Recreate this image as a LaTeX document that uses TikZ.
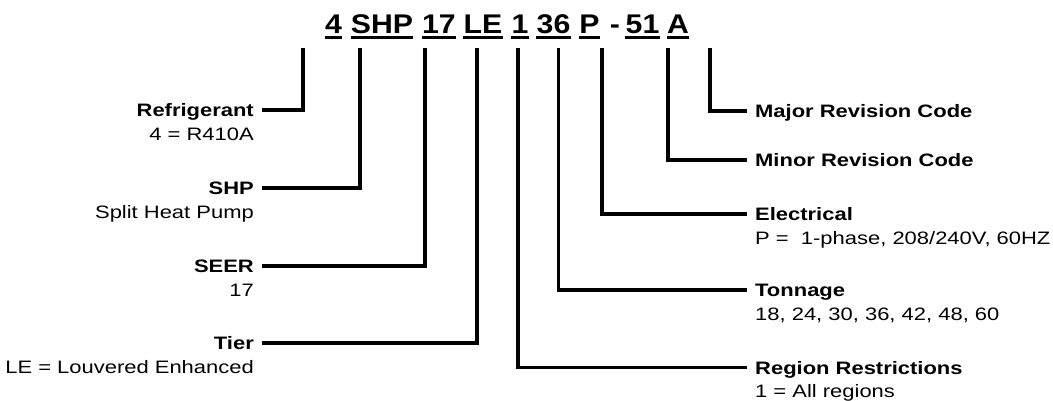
\documentclass[tikz,border=0pt]{standalone}
\usepackage{fontspec}
\setmainfont{Liberation Sans}
\newfontfamily\labelfont{Liberation Sans}[FakeStretch=1.22]
\newfontfamily\codefont{Liberation Sans}[FakeStretch=1.12]

\begin{document}
\begin{tikzpicture}[
		x=1pt, y=-1pt,
		code part/.style={font=\codefont\fontsize{27}{32}\selectfont\bfseries, inner sep=0pt, anchor=base},
		code line/.style={line width=3pt},
		lead/.style={line width=3.5pt},
		head text/.style={font=\labelfont\fontsize{18}{21}\selectfont\bfseries, inner xsep=8pt, inner ysep=0pt, text height=13pt, text depth=0pt},
		note text/.style={font=\labelfont\fontsize{18}{21}\selectfont, inner xsep=8pt, inner ysep=0pt},
		left head/.style={head text, anchor=base east},
		left note/.style={note text, anchor=base east},
		right head/.style={head text, anchor=base west},
		right note/.style={note text, anchor=base west}
		]
		\useasboundingbox (0,0) rectangle (1053,400);
		
		% =========================================================
		% Model number
		% =========================================================
		\foreach \x/\n/\t in {333.5/t4/4, 382/tshp/SHP, 439/t17/17, 483/tle/LE, 520/t1/1,
			553.5/t36/36, 589.5/tp/P, 615/tdash/-, 642.5/t51/51, 678/ta/A} {
			\node[code part] (\n) at (\x, 33) {\t};
		}
		% Underlines
		\foreach \n in {t4, tshp, t17, tle, t1, t36, tp, t51, ta} {
			\draw[code line] ([yshift=-4.5pt]\n.base west) -- ([yshift=-4.5pt]\n.base east);
		}
		
		% Top ends of the leads
		\foreach \x/\n in {303/refr, 360/shp, 425/seer, 477/tier, 518/region,
			558.5/ton, 602/elec, 668/minor, 710/major} {
			\coordinate (top \n) at (\x, 48);
		}
		
		% =========================================================
		% Left side
		% =========================================================
		\node[left head] (refr) at (262, 116.5) {Refrigerant};
		\node[left note] (refr sub) at ([yshift=-24pt]refr.base east) {4 = R410A};
		
		\node[left head] (shp) at (262, 194.5) {SHP};
		\node[left note] (shp sub) at ([yshift=-24pt]shp.base east) {Split Heat Pump};
		
		\node[left head] (seer) at (262, 272.5) {SEER};
		\node[left note] (seer sub) at ([yshift=-24pt]seer.base east) {17};
		
		\node[left head] (tier) at (262, 349.5) {Tier};
		\node[left note] (tier sub) at ([yshift=-24pt]tier.base east) {LE = Louvered Enhanced};
		
		\draw[lead] (refr.east) -| (top refr);
		\draw[lead] (shp.east) -| (top shp);
		\draw[lead] (seer.east) -| (top seer);
		\draw[lead] (tier.east) -| (top tier);
		
		% =========================================================
		% Right side
		% =========================================================
		\node[right head] (major) at (747, 117.5) {Major Revision Code};
		
		\node[right head] (minor) at (747, 166.5) {Minor Revision Code};
		
		\node[right head] (elec) at (747, 220.5) {Electrical};
		\node[right note] (elec sub) at ([yshift=-24pt]elec.base west) {P =\ \ 1-phase, 208/240V, 60HZ};
		
		\node[right head] (ton) at (747, 296.5) {Tonnage};
		\node[right note] (ton sub) at ([yshift=-24pt]ton.base west) {18, 24, 30, 36, 42, 48, 60};
		
		\node[right head] (region) at (747, 374) {Region Restrictions};
		\node[right note] (region sub) at ([yshift=-23.5pt]region.base west) {1 = All regions};
		
		\draw[lead] (top major) |- (major.west);
		\draw[lead] (top minor) |- (minor.west);
		\draw[lead] (top elec) |- (elec.west);
		\draw[lead] (top ton) |- (ton.west);
		\draw[lead] (top region) |- (region.west);
		
	\end{tikzpicture}
\end{document}
